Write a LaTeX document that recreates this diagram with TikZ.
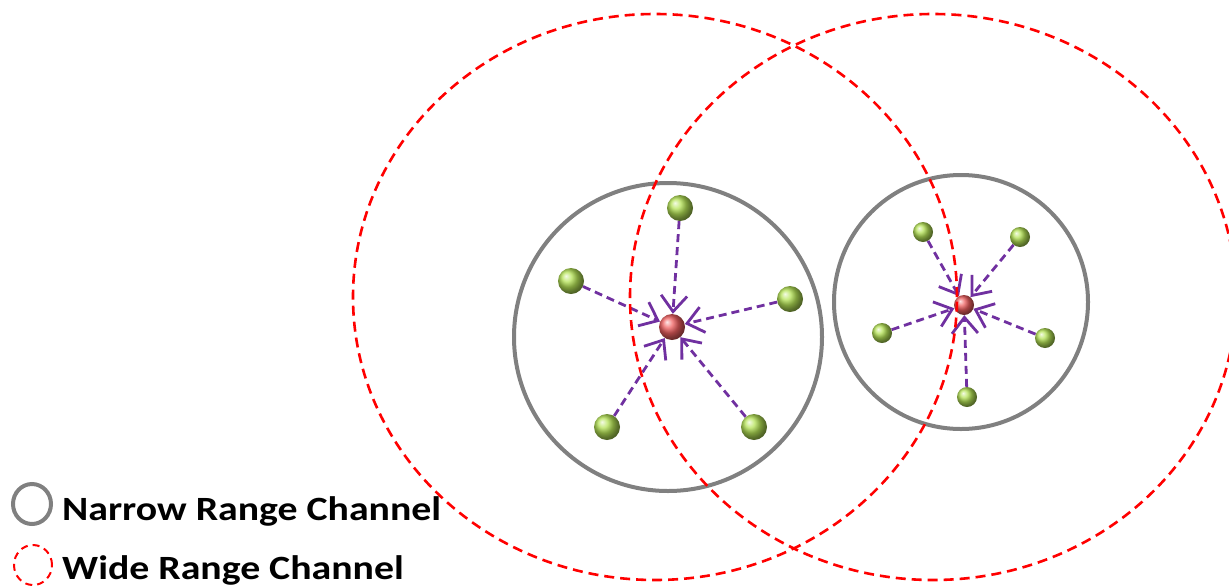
\documentclass[tikz,border=0pt]{standalone}
\usepackage{fontspec}
\setsansfont{Carlito}
\usetikzlibrary{arrows.meta}
\definecolor{rangeGray}{HTML}{808080}
\definecolor{ballGreen}{HTML}{B4E255}
\definecolor{ballRed}{HTML}{F06060}
\definecolor{arrowPurple}{HTML}{7030A0}

\begin{document}
\begin{tikzpicture}[
  x=1pt, y=-1pt,
  narrow/.style={draw=rangeGray, line width=4pt},
  wide/.style={draw=red, line width=2.6pt, dash pattern=on 10pt off 6pt},
  hubball/.style={circle, inner sep=0pt, shading=ball, ball color=ballRed},
  leafball/.style={circle, inner sep=0pt, shading=ball, ball color=ballGreen},
  arrow/.style={draw=arrowPurple, line width=2.8pt, dash pattern=on 8pt off 5pt, -{Straight Barb[length=16pt,width=26pt]}},
  legend/.style={font=\sffamily\bfseries\fontsize{34}{40}\selectfont, anchor=base west, inner sep=0pt, xscale=1.17, transform shape},
]
\useasboundingbox (0,0) rectangle (1229,587);

% narrow range channels
\draw[narrow] (668,337) circle[radius=154pt];
\draw[narrow] (961,302) circle[radius=127pt];

% cluster A
\node[hubball, minimum size=26pt] (hubA) at (672,327) {};
\node[leafball, minimum size=26pt] (leafA1) at (680,208) {};
\node[leafball, minimum size=26pt] (leafA2) at (571,281) {};
\node[leafball, minimum size=26pt] (leafA3) at (790,299) {};
\node[leafball, minimum size=26pt] (leafA4) at (607,427) {};
\node[leafball, minimum size=26pt] (leafA5) at (754,427) {};

% cluster B
\node[hubball, minimum size=20pt] (hubB) at (964,305) {};
\node[leafball, minimum size=20pt] (leafB1) at (923,232) {};
\node[leafball, minimum size=20pt] (leafB2) at (1020,237) {};
\node[leafball, minimum size=20pt] (leafB3) at (882,333) {};
\node[leafball, minimum size=20pt] (leafB4) at (1045,338) {};
\node[leafball, minimum size=20pt] (leafB5) at (967,397) {};

\draw[arrow] (leafA1) -- (hubA);
\draw[arrow] (leafA2) -- (hubA);
\draw[arrow] (leafA3) -- (hubA);
\draw[arrow] (leafA4) -- (hubA);
\draw[arrow] (leafA5) -- (hubA);

\draw[arrow] (leafB1) -- (hubB);
\draw[arrow] (leafB2) -- (hubB);
\draw[arrow] (leafB3) -- (hubB);
\draw[arrow] (leafB4) -- (hubB);
\draw[arrow] (leafB5) -- (hubB);

% wide range channels
\draw[wide] (655,297) ellipse[x radius=302pt, y radius=283pt];
\draw[wide] (933,297) ellipse[x radius=303pt, y radius=283pt];

% legend
\draw[narrow] (32,504) ellipse[x radius=19pt, y radius=20pt];
\node[legend] (narrowLabel) at (62,520) {Narrow Range Channel};
\draw[wide, line width=2pt, dash pattern=on 7pt off 5pt] (33,565) ellipse[x radius=19pt, y radius=20pt];
\node[legend] (wideLabel) at (62,579) {Wide Range Channel};
\end{tikzpicture}
\end{document}
